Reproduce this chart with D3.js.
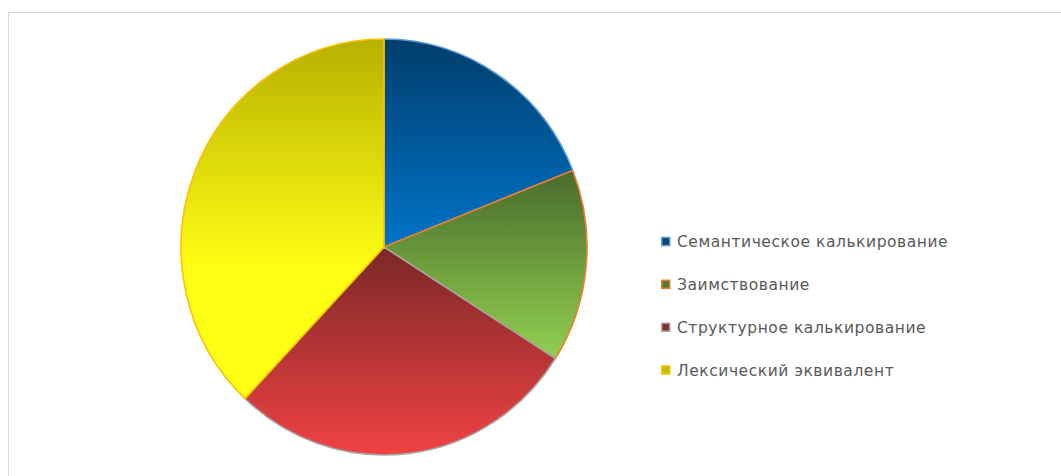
<!DOCTYPE html>
<html>
<head>
<meta charset="utf-8">
<script src="https://cdn.jsdelivr.net/npm/d3@7"></script>
<style>
  body { margin: 0; background: #fff; }
  svg { display: block; }
  .legend text { font-family: "DejaVu Sans", sans-serif; font-size: 15.5px; fill: #595959; letter-spacing: 0.55px; }
</style>
</head>
<body>
<div id="chart"></div>
<script>
// slice values (percent)
const categories = ["Семантическое калькирование", "Заимствование", "Структурное калькирование", "Лексический эквивалент"];
const values = [19, 15, 28, 38];

// per-slice gradient (top -> bottom) and outline colour
const gradTop = ["#003e6c", "#486b2b", "#7a2828", "#b8b000"];
const gradBottom = ["#0074c8", "#92d050", "#f04242", "#ffff14"];
const gradEnd = [1, 1, 1, 0.65]; // where the bottom colour is reached
const outline = ["#5b9bd5", "#ed7d31", "#a5a5a5", "#ffc000"];

const width = 1061, height = 476;
const cx = 384, cy = 247, r = 203;

let svg = d3.select("#chart").append("svg")
  .attr("width", width)
  .attr("height", height);

// chart area frame
svg.append("rect")
  .attr("x", 8.5).attr("y", 12.5)
  .attr("width", 1060).attr("height", 470)
  .attr("fill", "none")
  .attr("stroke", "#d9d9d9");

let defs = svg.append("defs");
categories.forEach((c, i) => {
  let g = defs.append("linearGradient")
    .attr("id", "grad" + i)
    .attr("x1", 0).attr("y1", 0).attr("x2", 0).attr("y2", 1);
  g.append("stop").attr("offset", 0).attr("stop-color", gradTop[i]);
  g.append("stop").attr("offset", gradEnd[i]).attr("stop-color", gradBottom[i]);
});

let pie = d3.pie().sort(null).value((d) => d);
let arc = d3.arc().innerRadius(0).outerRadius(r);

// the picture is slightly taller than wide
let pieG = svg.append("g")
  .attr("transform", `translate(${cx},${cy}) scale(1,${208 / 203})`);

pieG.selectAll("path")
  .data(pie(values))
  .enter().append("path")
  .attr("d", arc)
  .attr("fill", (d, i) => `url(#grad${i})`)
  .attr("stroke", (d, i) => outline[i])
  .attr("stroke-width", 1.6)
  .attr("stroke-linejoin", "round");

// legend
let legendY = d3.scalePoint().domain(categories).range([241.5, 370]);

let legend = svg.append("g").attr("class", "legend")
  .selectAll("g")
  .data(categories)
  .enter().append("g")
  .attr("transform", (d) => `translate(661,${legendY(d)})`);

legend.append("rect")
  .attr("x", 0.75).attr("y", -4)
  .attr("width", 8).attr("height", 8)
  .attr("fill", (d, i) => d3.interpolateRgb(gradTop[i], gradBottom[i])(0.15))
  .attr("stroke", (d, i) => outline[i])
  .attr("stroke-width", 1.5);

legend.append("text")
  .attr("x", 16)
  .attr("y", 5.5)
  .text((d) => d);
</script>
</body>
</html>
